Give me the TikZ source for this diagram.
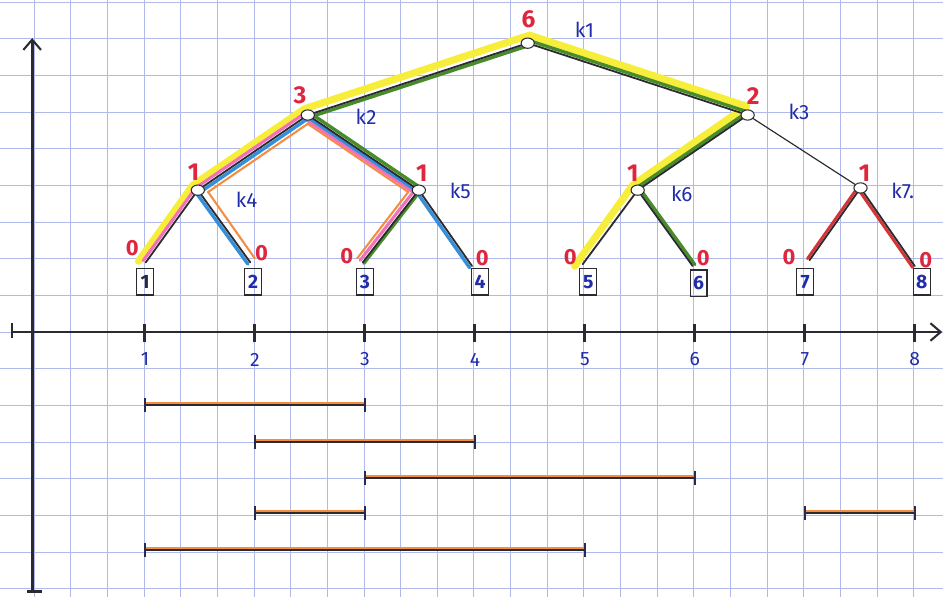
\documentclass[tikz,border=0pt]{standalone}
\usepackage{fontspec}
\setmainfont{Fira Sans}
\usetikzlibrary{calc,shapes.geometric,arrows.meta}
\definecolor{gridc}{RGB}{176,186,234}
\definecolor{inkc}{RGB}{42,42,48}
\definecolor{redc}{RGB}{222,38,62}
\definecolor{bluec}{RGB}{32,44,168}
\definecolor{ylwc}{RGB}{246,238,58}
\definecolor{grnc}{RGB}{72,140,42}
\definecolor{pnkc}{RGB}{242,112,184}
\definecolor{bluhl}{RGB}{52,142,216}
\definecolor{orgc}{RGB}{246,140,62}
\definecolor{redhl}{RGB}{214,52,52}
\pgfdeclarelayer{gridlayer}
\pgfdeclarelayer{hllayer}
\pgfsetlayers{gridlayer,hllayer,main}
% offset copy of the segment A--B, on the counter-clockwise (P) or clockwise (N) side
\newcommand\segP[4]{\draw[#4] ($(#1)!#3!90:(#2)$) -- ($(#2)!#3!-90:(#1)$);}
\newcommand\segN[4]{\draw[#4] ($(#1)!#3!-90:(#2)$) -- ($(#2)!#3!90:(#1)$);}
\newcommand\ival[3]{%
  \draw[ivorg] (3*#1+0.03,#3+0.05) -- (3*#2+0.03,#3+0.05);
  \draw[ivblk] (3*#1+0.03,#3) -- (3*#2+0.03,#3);
  \draw[ivtick] (3*#1+0.03,#3+0.19) -- (3*#1+0.03,#3-0.19);
  \draw[ivtick] (3*#2+0.03,#3+0.19) -- (3*#2+0.03,#3-0.19);}
\tikzset{
  tn/.style={ellipse, draw=inkc, fill=white, line width=0.8pt,
    minimum width=0.36cm, minimum height=0.28cm, inner sep=0pt},
  edge/.style={draw=inkc, line width=1.4pt, line cap=round},
  thinedge/.style={draw=inkc, line width=0.9pt, line cap=round},
  leafbox/.style={draw=inkc, line width=0.9pt, minimum width=0.46cm,
    minimum height=0.72cm, inner sep=0pt, text=bluec,
    font=\fontsize{15}{15}\selectfont\bfseries},
  val/.style={text=redc, font=\fontsize{19}{19}\selectfont\bfseries, inner sep=0pt},
  zero/.style={text=redc, font=\fontsize{17}{17}\selectfont\bfseries, inner sep=0pt},
  klab/.style={text=bluec, font=\fontsize{16}{16}\selectfont, inner sep=0pt},
  ticklab/.style={text=bluec, font=\fontsize{15}{15}\selectfont, inner sep=0pt},
  ylw/.style={draw=ylwc, line width=5.5pt, line join=round, line cap=round},
  org/.style={draw=orgc, line width=1.6pt, line join=miter},
  grn/.style={draw=grnc, line width=2.6pt, line cap=round},
  pnk/.style={draw=pnkc, line width=2.4pt, line cap=round},
  blu/.style={draw=bluhl, line width=2.6pt, line cap=round},
  rdh/.style={draw=redhl, line width=2.3pt, line cap=round},
  axis/.style={draw=inkc, line width=2.2pt},
  axtick/.style={draw=inkc, line width=2.4pt},
  ivblk/.style={draw=inkc, line width=1.6pt},
  ivorg/.style={draw=orgc, line width=2.2pt},
  ivtick/.style={draw=inkc!70!bluec, line width=1.8pt},
  tip/.style={-{Straight Barb[length=0.28cm,width=0.48cm,line width=1.6pt]}}
}
\begin{document}
\begin{tikzpicture}
\useasboundingbox (-0.928,-7.23) rectangle (24.80,9.058);
\begin{pgfonlayer}{gridlayer}
  \fill[white] (-0.928,-7.23) rectangle (24.80,9.058);
  \draw[gridc, line width=0.6pt] (-0.928,-7.23) grid (24.80,9.058);
\end{pgfonlayer}

% ---------- axes ----------
\draw[axis,tip] (-0.6,0) -- (24.78,0);
\draw[axis] (-0.6,0.25) -- (-0.6,-0.16);
\draw[axis,tip] (-0.05,-7.09) -- (-0.05,8.02);
\draw[axis] (-0.19,-7.09) -- (0.22,-7.09);
\foreach \n in {1,...,8}{
  \draw[axtick] (3*\n+0.01,0.22) -- (3*\n+0.01,-0.26);
  \node[ticklab] (t\n) at (3*\n+0.03,-0.75) {\n};
}

% ---------- tree nodes ----------
\node[tn] (k1) at (13.47,7.88) {};
\node[tn] (k2) at (7.47,5.92) {};
\node[tn] (k3) at (19.47,5.92) {};
\node[tn] (k4) at (4.47,3.87) {};
\node[tn] (k5) at (10.50,3.87) {};
\node[tn] (k6) at (16.47,3.87) {};
\node[tn] (k7) at (22.55,3.93) {};
\coordinate (e1) at (3.05,1.90);
\coordinate (e2) at (5.90,1.90);
\coordinate (e3) at (8.97,1.90);
\coordinate (e4) at (11.95,1.80);
\coordinate (e5) at (14.97,1.85);
\coordinate (e6) at (17.97,1.80);
\coordinate (e7) at (21.16,1.96);
\coordinate (e8) at (24.03,1.80);

% leaf boxes
\node[leafbox, text=inkc] (b1) at (3.03,1.37) {1};
\node[leafbox] (b2) at (5.98,1.37) {2};
\node[leafbox] (b3) at (9.03,1.37) {3};
\node[leafbox] (b4) at (12.17,1.37) {4};
\node[leafbox] (b5) at (15.12,1.37) {5};
\node[leafbox] (b6) at (18.13,1.33) {6};
\node[leafbox] (b7) at (21.04,1.37) {7};
\node[leafbox] (b8) at (24.22,1.37) {8};

% ---------- highlights ----------
\begin{pgfonlayer}{hllayer}
  % yellow: [1,5]
  \draw[ylw] ($(e1)+(-0.2,0.03)$) -- ($(k4.center)+(-0.135,0.138)$)
     -- ($(k2.center)+(-0.085,0.172)$) -- ($(k1.center)+(0.05,0.22)$)
     -- ($(k3.center)+(-0.03,0.24)$) -- ($(k6.center)+(-0.134,0.139)$)
     -- ($(e5)+(-0.22,-0.05)$);
  % orange: [2,3]
  \draw[org] ($(e2)+(0.13,0.1)$) -- ($(k4.center)+(0.28,-0.05)$)
     -- ($(k2.center)+(0,-0.24)$) -- ($(k5.center)+(-0.29,-0.05)$)
     -- ($(e3)+(-0.16,0.1)$);
  % green: [3,6]
  \segP{k1.center}{k2.center}{0.07cm}{grn}
  \segP{k1.center}{k3.center}{0.08cm}{grn}
  \segN{k3.center}{k6.center}{0.07cm}{grn}
  \segP{k6.center}{e6}{0.07cm}{grn}
  \segP{k2.center}{k5.center}{0.08cm}{grn}
  \segP{k5.center}{e3}{0.04cm}{grn}
  % pink: [1,3]
  \segN{k2.center}{k4.center}{0.085cm}{pnk}
  \segN{k4.center}{e1}{0.085cm}{pnk}
  \segN{k2.center}{k5.center}{0.13cm}{pnk}
  \segN{k5.center}{e3}{0.09cm}{pnk}
  % blue: [2,4]
  \segP{k2.center}{k4.center}{0.08cm}{blu}
  \segN{k4.center}{e2}{0.08cm}{blu}
  \segN{k2.center}{k5.center}{0.05cm}{blu}
  \segN{k5.center}{e4}{0.08cm}{blu}
  % red: [7,8]
  \segN{k7.center}{e7}{0.07cm}{rdh}
  \segN{k7.center}{e8}{0.07cm}{rdh}
\end{pgfonlayer}

% ---------- black edges ----------
\draw[edge] (k1) -- (k2);
\draw[edge] (k1) -- (k3);
\draw[edge] (k2) -- (k4);
\draw[edge] (k2) -- (k5);
\draw[edge] (k3) -- (k6);
\draw[thinedge] (k3) -- (k7);
\draw[edge] (k4) -- (e1);
\draw[edge] (k4) -- (e2);
\draw[edge] (k5) -- (e3);
\draw[edge] (k5) -- (e4);
\draw[edge] (k6) -- (e5);
\draw[edge] (k6) -- (e6);
\draw[edge] (k7) -- (e7);
\draw[edge] (k7) -- (e8);

% ---------- values ----------
\node[val] (v1) at (13.49,8.52) {6};
\node[val] (v2) at (7.26,6.47) {3};
\node[val] (v3) at (19.62,6.45) {2};
\node[val] (v4) at (4.35,4.35) {1};
\node[val] (v5) at (10.58,4.34) {1};
\node[val] (v6) at (16.34,4.32) {1};
\node[val] (v7) at (22.66,4.34) {1};
\node[zero] (z1) at (2.68,2.28) {0};
\node[zero] (z2) at (6.21,2.15) {0};
\node[zero] (z3) at (8.53,2.06) {0};
\node[zero] (z4) at (12.23,2.02) {0};
\node[zero] (z5) at (14.63,2.04) {0};
\node[zero] (z6) at (18.26,2.01) {0};
\node[zero] (z7) at (20.60,2.04) {0};
\node[zero] (z8) at (24.33,1.97) {0};

% ---------- labels ----------
\node[klab] (l1) at (15.02,8.24) {k1};
\node[klab] (l2) at (9.06,5.87) {k2};
\node[klab] (l3) at (20.87,6.00) {k3};
\node[klab] (l4) at (5.80,3.62) {k4};
\node[klab] (l5) at (11.63,3.85) {k5};
\node[klab] (l6) at (17.67,3.78) {k6};
\node[klab] (l7) at (23.70,3.85) {k7.};

% ---------- intervals ----------
\ival{1}{3}{-2}
\ival{2}{4}{-3}
\ival{3}{6}{-3.98}
\ival{2}{3}{-4.95}
\ival{7}{8}{-4.95}
\ival{1}{5}{-5.95}
\end{tikzpicture}
\end{document}
